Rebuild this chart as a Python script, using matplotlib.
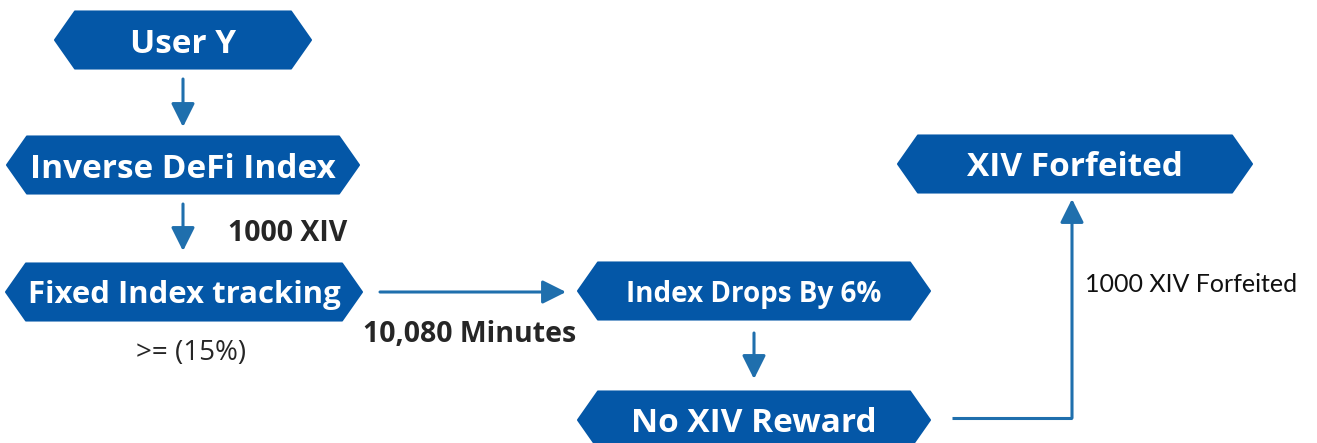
import matplotlib.pyplot as plt
from matplotlib.patches import Polygon, FancyArrowPatch

# node texts of the flow
node_labels = ["User Y", "Inverse DeFi Index", "Fixed Index tracking",
               "Index Drops By 6%", "No XIV Reward", "XIV Forfeited"]
# edge notes
edge_notes = ["1000 XIV", ">= (15%)", "10,080 Minutes", "1000 XIV Forfeited"]

# layout in pixel coords (x, y centre, half width)
node_pos = [(183, 40, 128), (183, 165, 176), (184, 292, 178),
            (754, 291, 176), (754, 420, 176), (1075, 164, 177)]
half_h = 28.5
slant = 20

box_color = "#0457a7"
arrow_color = "#1f6fad"
text_dark = "#262626"
font = "Open Sans"

fig = plt.figure(figsize=(13.17, 4.43), dpi=100)
ax = fig.add_axes([0, 0, 1, 1])
ax.set_xlim(0, 1317)
ax.set_ylim(443, 0)
ax.axis("off")

sizes = [24, 24, 22.4, 20, 24, 24]
for label, (cx, cy, hw), fs in zip(node_labels, node_pos, sizes):
    pts = [(cx - hw, cy), (cx - hw + slant, cy - half_h), (cx + hw - slant, cy - half_h),
           (cx + hw, cy), (cx + hw - slant, cy + half_h), (cx - hw + slant, cy + half_h)]
    ax.add_patch(Polygon(pts, closed=True, facecolor=box_color, edgecolor=box_color,
                         linewidth=1.5, joinstyle="round"))
    ax.text(cx, cy, label, color="white", fontsize=fs, fontweight="bold",
            family=font, ha="center", va="center_baseline")


def arrow(path_pts):
    for (x0, y0), (x1, y1) in zip(path_pts[:-2], path_pts[1:-1]):
        ax.plot([x0, x1], [y0, y1], color=arrow_color, lw=2.2, solid_capstyle="butt")
    ax.add_patch(FancyArrowPatch(path_pts[-2], path_pts[-1], arrowstyle="-|>,head_length=0.9,head_width=0.45",
                                 mutation_scale=16, color=arrow_color, lw=2.2, shrinkA=0, shrinkB=0))


arrow([(183, 79), (183, 127)])
arrow([(183, 204), (183, 251)])
arrow([(380, 292), (566, 292)])
arrow([(754, 333), (754, 379)])
arrow([(952, 418), (1072, 418), (1072, 199)])

ax.text(228, 230, edge_notes[0], color=text_dark, fontsize=20.5, fontweight="bold",
        family=font, ha="left", va="center_baseline")
ax.text(191, 350, edge_notes[1], color=text_dark, fontsize=20,
        family=font, ha="center", va="center_baseline")
ax.text(470, 331, edge_notes[2], color=text_dark, fontsize=20.5, fontweight="bold",
        family=font, ha="center", va="center_baseline")
ax.text(1085, 283, edge_notes[3], color="#111111", fontsize=18,
        family="Lato", ha="left", va="center_baseline")

fig.savefig("out.png", dpi=100)
